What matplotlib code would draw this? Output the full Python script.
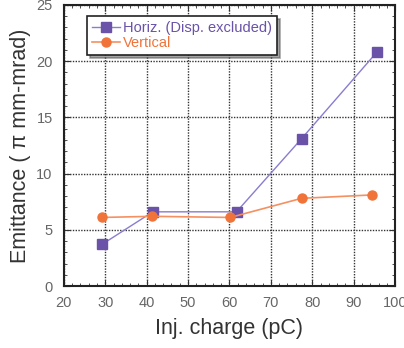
import matplotlib
matplotlib.use('Agg')
import matplotlib.pyplot as plt
from matplotlib.ticker import MultipleLocator

# data
horiz_x = [29.2, 41.5, 61.7, 77.4, 95.6]
horiz_y = [3.7, 6.6, 6.6, 13.1, 20.8]
vert_x = [29.2, 41.4, 60.2, 77.4, 94.3]
vert_y = [6.1, 6.2, 6.1, 7.8, 8.1]
labels = ['Horiz. (Disp. excluded)', 'Vertical']

plt.rcParams['font.family'] = ['Liberation Sans', 'DejaVu Sans']

fig = plt.figure(figsize=(4.04, 3.48), dpi=100)
ax = fig.add_axes([0.158, 0.178, 0.82, 0.808])

purple = '#6a52a8'
orange = '#f0733a'
ax.plot(horiz_x, horiz_y, color='#8a7cd0', lw=1.0, marker='s', ms=6.5,
        mfc=purple, mec=purple, label=labels[0], zorder=3)
ax.plot(vert_x, vert_y, color='#f59060', lw=1.2, marker='o', ms=6.5,
        mfc=orange, mec=orange, label=labels[1], zorder=3)

ax.set_xlim(20, 100)
ax.set_ylim(0, 25)
ax.xaxis.set_major_locator(MultipleLocator(10))
ax.xaxis.set_minor_locator(MultipleLocator(2))
ax.yaxis.set_major_locator(MultipleLocator(5))
ax.yaxis.set_minor_locator(MultipleLocator(1))
ax.grid(True, which='major', color='#333333', linestyle=(0, (1, 1)), lw=1.0)
ax.tick_params(which='both', direction='in', top=True, right=True,
               labelsize=10.5, labelcolor='#666666', color='#333333')
ax.tick_params(which='major', length=4)
ax.tick_params(which='minor', length=2)
ax.tick_params(axis='y', pad=8)
ax.tick_params(axis='x', pad=7)
for s in ax.spines.values():
    s.set_linewidth(1.5)
    s.set_color('#222222')

ax.set_xlabel('Inj. charge (pC)', fontsize=15.5, color='#333333', labelpad=6)
ax.set_ylabel('Emittance ( \u03c0 mm-mrad)', fontsize=15.5, color='#333333', labelpad=4)

leg = ax.legend(loc='upper left', bbox_to_anchor=(0.07, 0.96), fontsize=10.5,
                frameon=True, fancybox=False, shadow=True, handlelength=1.9,
                borderpad=0.35, labelspacing=0.05, handletextpad=0.2,
                borderaxespad=0)
leg.get_frame().set_edgecolor('#222222')
leg.get_frame().set_linewidth(1.2)
leg.get_texts()[0].set_color(purple)
leg.get_texts()[1].set_color(orange)

fig.savefig('out.png', dpi=100)
